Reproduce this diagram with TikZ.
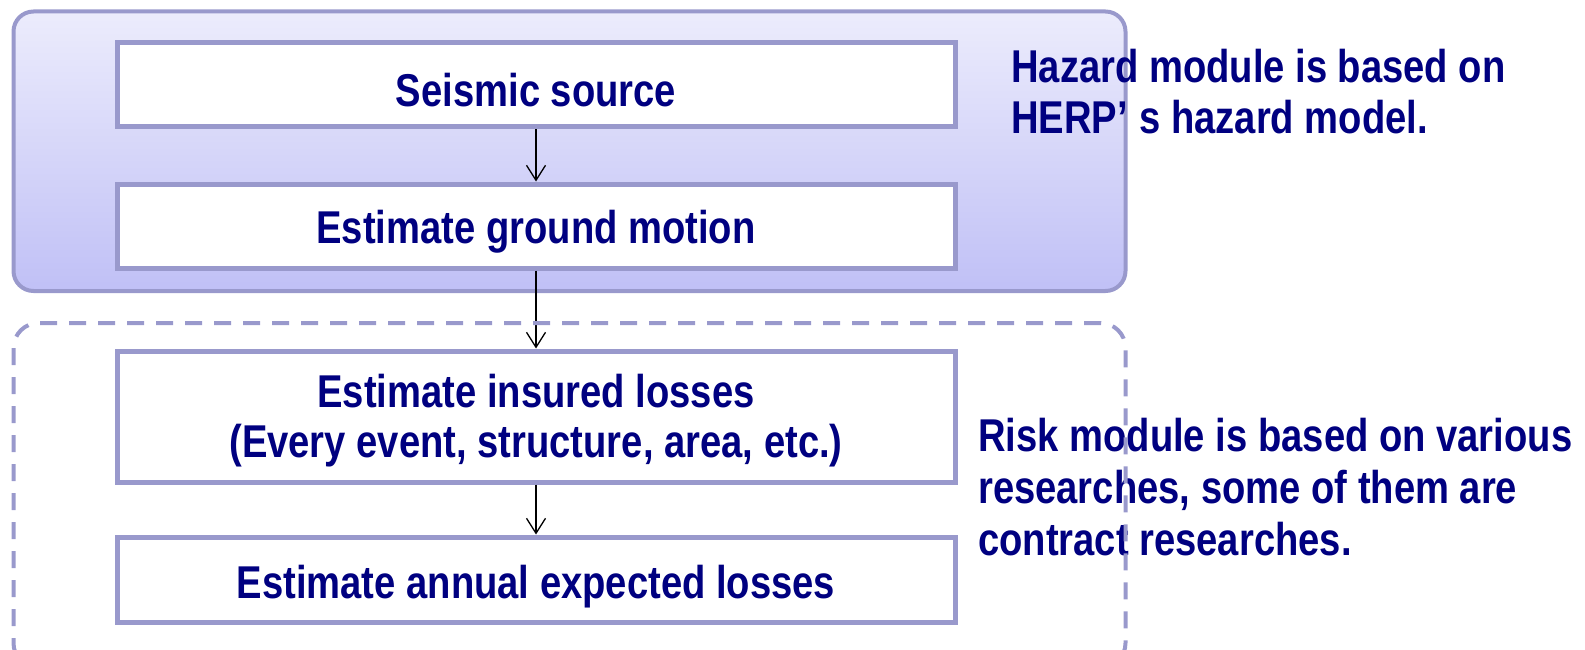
\documentclass[tikz,border=0pt]{standalone}
\usepackage{fontspec}
\newfontfamily\nf{Liberation Sans}[FakeStretch=0.83]
\usetikzlibrary{arrows.meta}
\definecolor{navy}{RGB}{0,0,128}
\definecolor{edge}{RGB}{153,153,204}
\definecolor{hztop}{RGB}{236,236,252}
\definecolor{hzbot}{RGB}{192,192,246}
\newcommand\dn[2]{\raisebox{-#1}[\height][\depth]{#2}}
\tikzset{
  stepbox/.style={draw=edge, line width=5pt, fill=white, minimum width=838pt,
    inner sep=0pt, align=center, text=navy, font=\nf\bfseries\fontsize{46}{50}\selectfont},
  flow/.style={draw=black, line width=1.3pt, -{Straight Barb[length=15pt,width=19pt,line width=1.3pt]}},
  note/.style={text=navy, align=left, inner sep=0pt, anchor=north west,
    font=\nf\bfseries\fontsize{46}{51}\selectfont},
}
\begin{document}
\begin{tikzpicture}[x=1pt,y=-1pt]
\useasboundingbox (0,0) rectangle (1585,650);
\clip (0,0) rectangle (1585,650);
% hazard module frame
\path[draw=edge, line width=4pt, rounded corners=20pt, top color=hztop, bottom color=hzbot]
  (13.5,11.5) rectangle (1125.5,291);
% steps
\node[stepbox, minimum height=84pt] (src) at (536,85) {\dn{5pt}{Seismic source}};
\node[stepbox, minimum height=84pt] (gm) at (536,226) {\dn{6pt}{Estimate ground motion}};
\node[stepbox, minimum height=131pt] (ins) at (536,416.5)
  {\dn{6pt}{\begin{tabular}{@{}c@{}}Estimate insured losses\\(Every event, structure, area, etc.)\end{tabular}}};
\node[stepbox, minimum height=85pt] (ann) at (536,579.5) {\dn{7pt}{Estimate annual expected losses}};
% arrows
\draw[flow] (src.south) -- (gm.north);
\draw[flow] (gm.south) -- (ins.north);
\draw[flow] (ins.south) -- (ann.north);
% notes
\node[note] (hznote) at (1011,49) {Hazard module is based on\\HERP’\hspace{0.25em}s hazard model.};
\node[note, font=\nf\bfseries\fontsize{46}{52}\selectfont] (rknote) at (978,418) {Risk module is based on various\\researches, some of them are\\contract researches.};
% risk module frame (dashed)
\draw[edge, line width=4pt, dash pattern=on 17pt off 12pt, rounded corners=25pt]
  (13.5,323) rectangle (1125.5,668);
\end{tikzpicture}
\end{document}
